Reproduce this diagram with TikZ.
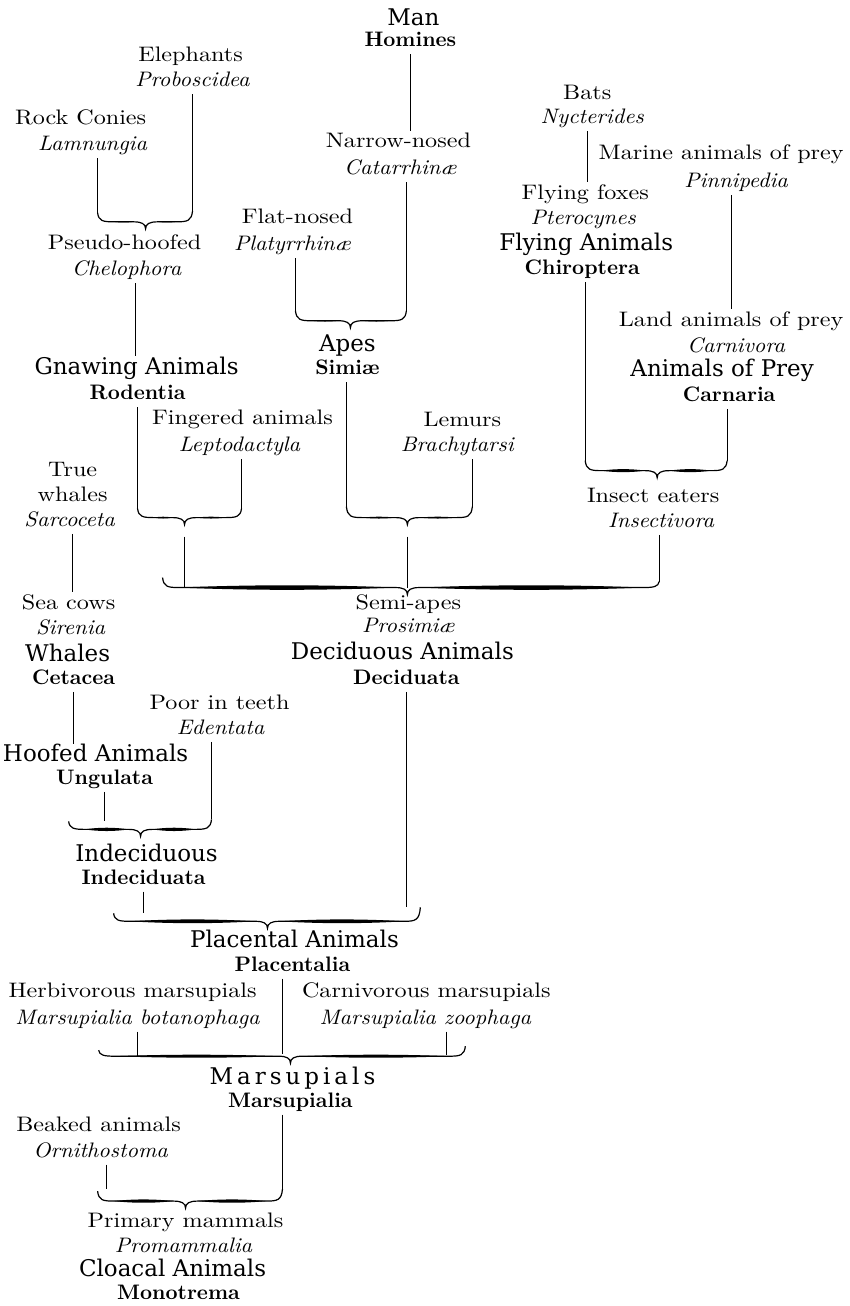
\documentclass[tikz,border=0pt]{standalone}
\usepackage{fontspec}
\setmainfont{Latin Modern Roman}[UprightFeatures={FakeStretch=1.15},ItalicFeatures={FakeStretch=1.07}]
\newfontfamily\frakfamily{DejaVu Serif}[FakeStretch=1.0]
% brace: name, xl, yl, xtip, xr, yr, yh, thickness
\newcommand{\brc}[8]{%
  \coordinate (#1l) at (#2,#3);
  \coordinate (#1r) at (#5,#6);
  \coordinate (#1h) at (#4,#7);
  \coordinate (#1t) at (#4,#7+7);
  \draw[bline] (#1l) .. controls (#2+1,#7-1) and (#2+5,#7) .. (#2+16,#7) -- (#4-12,#7)
     .. controls (#4-4,#7) and (#4,#7+2) .. (#1t)
     .. controls (#4,#7+2) and (#4+4,#7) .. (#4+12,#7) -- (#5-16,#7)
     .. controls (#5-5,#7) and (#5-1,#7-1) .. (#1r);
  \pgfmathsetmacro\qla{#2+16}\pgfmathsetmacro\qlb{#4-12}%
  \pgfmathsetmacro\qlc{\qla+(\qlb-\qla)/3}\pgfmathsetmacro\qld{\qla+2*(\qlb-\qla)/3}%
  \pgfmathsetmacro\qra{#4+12}\pgfmathsetmacro\qrb{#5-16}%
  \pgfmathsetmacro\qrc{\qra+(\qrb-\qra)/3}\pgfmathsetmacro\qrd{\qra+2*(\qrb-\qra)/3}%
  \fill (\qla,#7) .. controls (\qlc,#7-#8) and (\qld,#7-#8) .. (\qlb,#7)
     .. controls (\qld,#7+#8) and (\qlc,#7+#8) .. cycle;
  \fill (\qra,#7) .. controls (\qrc,#7-#8) and (\qrd,#7-#8) .. (\qrb,#7)
     .. controls (\qrd,#7+#8) and (\qrc,#7+#8) .. cycle;
}
\begin{document}
\begin{tikzpicture}[x=0.5pt,y=-0.5pt,
  lab/.style={inner sep=1.5pt, text height=7pt, text depth=2pt, anchor=center},
  rm/.style={lab,font=\fontsize{10.5}{12}\selectfont},
  it/.style={lab,font=\fontsize{10.5}{12}\selectfont\itshape},
  bf/.style={lab,font=\fontsize{10.5}{12}\selectfont\bfseries},
  fk/.style={lab,font=\frakfamily\fontsize{11.5}{12}\selectfont},
  conn/.style={line width=0.55pt},
  bline/.style={line width=0.6pt}]
\fill[white] (0,0) rectangle (849,1306);

% ---- top
\node[fk] (man) at (413,21) {Man};
\node[bf] (hom) at (410,42) {Homines};
\node[rm] (eleph) at (190,57) {Elephants};
\node[it] (probo) at (192,82) {Proboscidea};
\node[rm] (rock) at (80,120) {Rock Conies};
\node[it] (lamn) at (92,146) {Lamnungia};
\node[rm] (narrow) at (398,143) {Narrow-nosed};
\node[it] (catar) at (400,170) {Catarrhinæ};
\node[rm] (bats) at (587,95) {Bats};
\node[it] (nyct) at (592,119) {Nycterides};
\node[rm] (marine) at (721,155) {Marine animals of prey};
\node[it] (pinni) at (736,183) {Pinnipedia};
\node[rm] (flyfox) at (585,195) {Flying foxes};
\node[it] (ptero) at (583,220) {Pterocynes};
\node[fk] (flyan) at (586,246) {Flying Animals};
\node[bf] (chir) at (582,270) {Chiroptera};
\node[rm] (flat) at (297,219) {Flat-nosed};
\node[it] (platy) at (292,246) {Platyrrhinæ};
\node[rm] (pseudo) at (124,245) {Pseudo-hoofed};
\node[it] (chelo) at (126,271) {Chelophora};
\node[rm] (land) at (731,322) {Land animals of prey};
\node[it] (carniv) at (736,348) {Carnivora};
\node[fk] (aprey) at (722,372) {Animals of Prey};
\node[bf] (carn) at (729,397) {Carnaria};
\node[fk] (apes) at (347,347) {Apes};
\node[bf] (simiae) at (347,370) {Simiæ};
\node[fk] (gnaw) at (136,370) {Gnawing Animals};
\node[bf] (rod) at (137,395) {Rodentia};
\node[rm] (finger) at (242,420) {Fingered animals};
\node[it] (lepto) at (239,447) {Leptodactyla};
\node[rm] (lemurs) at (462,422) {Lemurs};
\node[it] (brachy) at (457,447) {Brachytarsi};
\node[rm] (true) at (72,472) {True};
\node[rm] (whales) at (72,497) {whales};
\node[it] (sarco) at (69,522) {Sarcoceta};
\node[rm] (insect) at (653,498) {Insect eaters};
\node[it] (insectiv) at (661,523) {Insectivora};
% ---- middle
\node[rm] (seacow) at (68,605) {Sea cows};
\node[it] (sirenia) at (70,630) {Sirenia};
\node[rm] (semi) at (408,605) {Semi-apes};
\node[it] (prosim) at (408,628) {Prosimiæ};
\node[fk] (whalesf) at (67,657) {Whales};
\node[bf] (cetacea) at (73,680) {Cetacea};
\node[fk] (decid) at (402,655) {Deciduous Animals};
\node[bf] (decidb) at (406,680) {Deciduata};
\node[rm] (poor) at (219,705) {Poor in teeth};
\node[it] (edent) at (220,730) {Edentata};
\node[fk] (hoofed) at (95,757) {Hoofed Animals};
\node[bf] (ungul) at (104,780) {Ungulata};
\node[fk] (indecf) at (146,857) {Indeciduous};
\node[bf] (indec) at (143,880) {Indeciduata};
\node[fk] (placf) at (294,943) {Placental Animals};
\node[bf] (placb) at (292,967) {Placentalia};
% ---- bottom
\node[rm] (herb) at (132,993) {Herbivorous marsupials};
\node[it] (botan) at (137,1020) {Marsupialia botanophaga};
\node[rm] (carnm) at (426,993) {Carnivorous marsupials};
\node[it] (zoo) at (425,1020) {Marsupialia zoophaga};
\node[fk] (marsf) at (292,1080) {M\kern2pt a\kern2pt r\kern2pt s\kern2pt u\kern2pt p\kern2pt i\kern2pt a\kern2pt l\kern2pt s};
\node[bf] (marsb) at (290,1103) {Marsupialia};
\node[rm] (beak) at (98,1127) {Beaked animals};
\node[it] (ornith) at (100,1153) {Ornithostoma};
\node[rm] (primary) at (185,1223) {Primary mammals};
\node[it] (proma) at (183,1248) {Promammalia};
\node[fk] (cloac) at (172,1272) {Cloacal Animals};
\node[bf] (mono) at (178,1295) {Monotrema};

% ---- braces
\brc{ba}{97}{213}{145}{192}{211}{222}{0.8}
\brc{bb}{295}{311}{350}{406}{311}{321}{1}
\brc{bc}{137}{509}{184}{241}{509}{518}{1.2}
\brc{bd}{346}{507}{407}{472}{507}{518}{1.2}
\brc{be}{585}{461}{657}{727}{461}{471}{2}
\brc{bf}{162}{578}{407}{659}{582}{588}{3}
\brc{bg}{68}{822}{140}{211}{820}{830}{2.2}
\brc{bh}{113}{914}{267}{420}{908}{922}{2.5}
\brc{bi}{98}{1051}{290}{465}{1047}{1057}{2}
\brc{bj}{97}{1192}{185}{282}{1190}{1202}{2.2}

\coordinate (gnawtop) at (135,356);
\coordinate (pnine) at (282,1055);
\coordinate (znine) at (446,1056);
\coordinate (oten) at (106,1190);

% ---- connectors
\draw[conn] (hom.south) -- (hom.south |- narrow.north);
\draw[conn] (catar.south -| bbr) -- (bbr);
\draw[conn] (platy.south -| bbl) -- (bbl);
\draw[conn] (probo.south -| bar) -- (bar);
\draw[conn] (lamn.south -| bal) -- (bal);
\draw[conn] (chelo.south -| gnawtop) -- (gnawtop);
\draw[conn] (rod.south -| bcl) -- (bcl);
\draw[conn] (lepto.south -| bcr) -- (bcr);
\draw[conn] (simiae.south -| bdl) -- (bdl);
\draw[conn] (brachy.south -| bdr) -- (bdr);
\draw[conn, shorten <=6pt] (bct) -- (bct |- bfh);
\draw[conn, shorten <=6pt] (bdt) -- (bdt |- bfh);
\draw[conn] (insectiv.south -| bfr) -- (bfr);
\draw[conn] (nyct.south -| bats) -- (bats |- flyfox.north);
\draw[conn] (pinni.south -| land) -- (land.north);
\draw[conn] (chir.south -| bel) -- (bel);
\draw[conn] (carn.south -| ber) -- (ber);
\draw[conn] (sarco.south -| true) -- (true |- seacow.north);
\draw[conn] (cetacea.south) -- (cetacea.south |- hoofed.north);
\draw[conn] (ungul.south) -- (ungul.south |- bgl);
\draw[conn] (edent.south -| bgr) -- (bgr);
\draw[conn] (indec.south) -- (indec.south |- bhl);
\draw[conn] (decidb.south) -- (decidb.south |- bhr);
\draw[conn] (placb.south -| pnine) -- (pnine);
\draw[conn] (botan.south) -- (botan.south |- bih);
\draw[conn] (zoo.south -| znine) -- (znine);
\draw[conn] (ornith.south -| oten) -- (oten);
\draw[conn] (marsb.south -| bjr) -- (bjr);
\end{tikzpicture}
\end{document}
